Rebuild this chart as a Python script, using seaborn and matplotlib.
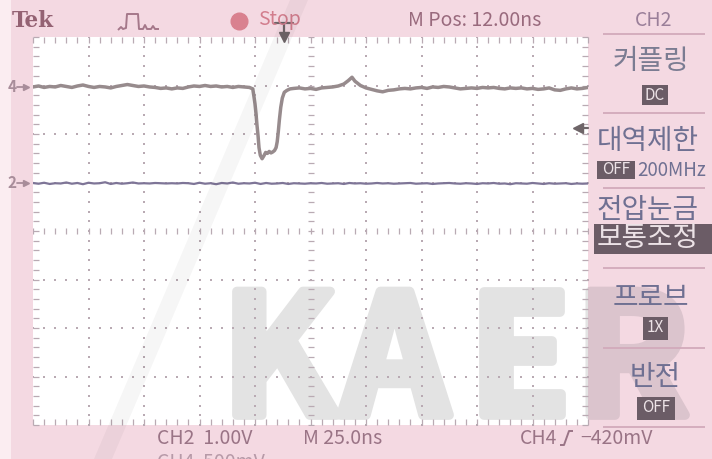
import numpy as np
import pandas as pd
import matplotlib
matplotlib.use("Agg")
import matplotlib.pyplot as plt
import matplotlib.patheffects as pe
import seaborn as sns
from matplotlib.lines import Line2D
from matplotlib.patches import Rectangle, Polygon

# ---- acquisition settings -------------------------------------------------
NS_PER_DIV = 25.0
M_POS_NS = 12.0
CH2_MV_PER_DIV = 1000.0
CH4_MV_PER_DIV = 500.0
CH2_POS_DIV = 1.0
CH4_POS_DIV = 2.96
TRIG_MV = -420.0

# ---- CH4 record (time in ns from left edge, level in mV) -----------------
ch4_t = [0, 2.5, 5, 7.5, 10, 12.5, 15, 17.5, 20, 22.5, 25, 27.5, 30, 32.5, 35,
         37.5, 40, 42.5, 45, 47.5, 50, 52.5, 55, 57.5, 60, 62.5, 65, 67.5, 70,
         72.5, 75, 77.5, 80, 82.5, 85, 87.5, 90, 92.5, 95, 97.5,
         99.0, 99.6, 100.0, 100.5, 100.9, 101.4, 101.8, 102.4, 103.2, 104.0,
         104.8, 105.6, 106.4, 107.2, 108.0, 108.8, 109.5, 110.0, 110.5, 111.0,
         111.6, 112.3, 113.2, 114.4, 115.8,
         117.5, 120, 122.5, 125, 127.5, 130, 132.5, 135, 137.5, 140, 142, 143.7,
         145, 147.5, 150, 152.5, 155, 157.5, 160, 162.5, 165, 167.5, 170, 172.5,
         175, 177.5, 180, 182.5, 185, 187.5, 190, 192.5, 195, 197.5, 200, 202.5,
         205, 207.5, 210, 212.5, 215, 217.5, 220, 222.5, 225, 227.5, 230, 232.5,
         235, 237.5, 240, 242.5, 245, 247.5, 250]
ch4_mv = [5, 15, 0, 10, 5, 20, 10, 0, 15, 25, 10, 0, 10, 5, -5,
          10, 20, 30, 20, 10, 15, 5, 0, -10, -5, -15, -5, -10, 5,
          15, 10, 20, 10, 15, 5, 10, 0, 10, 5, 0,
          -15, -105, -170, -280, -390, -505, -620, -700, -735, -705,
          -670, -680, -660, -675, -665, -650, -620, -560, -455, -330,
          -205, -110, -50, -30, -15,
          -10, -5, -15, -10, -20, -5, 0, 5, 15, 35, 70, 105,
          65, 20, -5, -20, -35, -45, -30, -25, -15, -10, -15, -5,
          0, -10, 5, 0, 10, 5, -5, -15, -10, -5, -10, 0,
          -5, 0, -10, -15, -5, -10, -5, -15, -10, -20, -15, -5,
          -25, -30, -15, -5, -15, -10, 0]

# ---- CH2 record ------------------------------------------------------------
ch2_t = [0, 2.5, 5, 7.5, 10, 12.5, 15, 17.5, 20, 22.5, 25, 27.5, 30, 32.5, 35,
         37.5, 40, 42.5, 45, 47.5, 50, 52.5, 55, 57.5, 60, 62.5, 65, 67.5, 70,
         72.5, 75, 77.5, 80, 82.5, 85, 87.5, 90, 92.5, 95, 97.5, 100, 102.5,
         105, 107.5, 110, 112.5, 115, 117.5, 120, 122.5, 125, 127.5, 130, 132.5,
         135, 137.5, 140, 142.5, 145, 147.5, 150, 152.5, 155, 157.5, 160, 162.5,
         165, 167.5, 170, 172.5, 175, 177.5, 180, 182.5, 185, 187.5, 190, 192.5,
         195, 197.5, 200, 202.5, 205, 207.5, 210, 212.5, 215, 217.5, 220, 222.5,
         225, 227.5, 230, 232.5, 235, 237.5, 240, 242.5, 245, 247.5, 250]
ch2_mv = [-10, -25, -5, -30, -15, -20, 0, -25, -10, -35, -5, -20, -15, 5, -30,
          -10, -25, -15, 0, -20, -15, -20, -10, -15, -20, -15, -20, -10, -15,
          -30, -5, -25, -15, -35, -10, -20, 0, -25, -15, -20, -5, -30,
          -10, -25, -20, -10, -30, -15, -20, -25, -15, -20, -10, -25,
          -20, -15, -30, -10, -20, -15, -25, -20, -10, -20, -15, -25,
          -20, -15, -10, -25, -20, -15, -30, -20, -15, -10, -20, -25,
          -15, -20, -30, -15, -20, -10, -25, -20, -35, -15, -20, -25,
          -10, -20, -30, -15, -25, -20, -15, -30, -20, -25, -20]

ch4 = pd.DataFrame({"t_ns": ch4_t, "div": [CH4_POS_DIV + v / CH4_MV_PER_DIV for v in ch4_mv]})
ch2 = pd.DataFrame({"t_ns": ch2_t, "div": [CH2_POS_DIV + v / CH2_MV_PER_DIV for v in ch2_mv]})

# ---- figure ------------------------------------------------------------------
W, H = 712, 459
sns.set_theme(style="white")
plt.rcParams["font.family"] = ["Liberation Sans Narrow", "Noto Sans CJK KR", "DejaVu Sans"]

PINK = "#f4d9e2"
MAUVE = "#9c6f80"
PANEL = "#6f7092"
BOX = "#6b5c66"
GRID = "#b9aab3"

fig = plt.figure(figsize=(W / 100, H / 100), dpi=100, facecolor=PINK)


def fx(x):
    return x / W


def fy(y):
    return 1 - y / H


def label(x, y, s, size=14, color=MAUVE, ha="center", va="center", **kw):
    return fig.text(fx(x), fy(y), s, fontsize=size, color=color, ha=ha, va=va, **kw)


def box(x0, y0, x1, y1, color=BOX):
    fig.add_artist(Rectangle((fx(x0), fy(y1)), (x1 - x0) / W, (y1 - y0) / H,
                             transform=fig.transFigure, facecolor=color,
                             edgecolor="none", zorder=2))


def pline(pts, color, lw=1.4, zorder=3):
    fig.add_artist(Line2D([fx(p[0]) for p in pts], [fy(p[1]) for p in pts],
                          transform=fig.transFigure, color=color, lw=lw,
                          zorder=zorder, solid_capstyle="butt"))


# lighter strip on the far left edge
fig.add_artist(Rectangle((0, 0), 11 / W, 1, transform=fig.transFigure,
                         facecolor="#fbedf1", edgecolor="none", zorder=-3))

# graticule
ax = fig.add_axes([fx(33), fy(425), 555 / W, 388 / H])
ax.set_facecolor("white")
ax.set_xlim(0, 10 * NS_PER_DIV)
ax.set_ylim(-4, 4)
for s in ax.spines.values():
    s.set_visible(False)
ax.set_xticks(np.arange(0, 10 * NS_PER_DIV + 0.1, NS_PER_DIV / 5))
ax.set_yticks(np.arange(-4, 4.01, 0.2))
ax.tick_params(direction="in", length=4, width=0.9, color=GRID,
               top=True, right=True, bottom=True, left=True,
               labelbottom=False, labelleft=False)

minor_y = np.arange(-4, 4.01, 0.2)
minor_x = np.arange(0, 250.1, 5)
for k in range(1, 10):
    if k == 5:
        continue
    xv = k * NS_PER_DIV
    ax.scatter(np.full_like(minor_y, xv), minor_y, s=1.6, marker="s",
               color=GRID, linewidths=0, zorder=1)
for yv in [-3, -2, -1, 1, 2, 3]:
    ax.scatter(minor_x, np.full_like(minor_x, yv), s=1.6, marker="s",
               color=GRID, linewidths=0, zorder=1)
# centre crosshair with minor division ticks
ax.plot(minor_x, np.zeros_like(minor_x), ls="none", marker="|", ms=4.5,
        mew=0.9, color=GRID, zorder=1)
ax.plot(np.full_like(minor_y, 125.0), minor_y, ls="none", marker="_", ms=4.5,
        mew=0.9, color=GRID, zorder=1)

# waveforms
sns.lineplot(data=ch4, x="t_ns", y="div", ax=ax, color="#978b8d", lw=2.5,
             estimator=None, sort=False, legend=False, zorder=4)
sns.lineplot(data=ch2, x="t_ns", y="div", ax=ax, color="#7e7597", lw=1.6,
             estimator=None, sort=False, legend=False, zorder=4)
ax.set_xlabel("")
ax.set_ylabel("")

# channel ground markers
ytr = ax.get_yaxis_transform()
for name, pos in (("4", CH4_POS_DIV), ("2", CH2_POS_DIV)):
    ax.text(-0.038, pos, name, transform=ytr, fontsize=11, color="#a88d9a",
            ha="center", va="center", clip_on=False, weight="bold")
    ax.plot([-0.029, -0.012], [pos, pos], transform=ytr, color="#a88d9a",
            lw=1.3, clip_on=False)
    ax.plot([-0.012], [pos], transform=ytr, marker=">", ms=4.5,
            color="#a88d9a", clip_on=False)

# trigger level marker (right edge)
trig_div = CH4_POS_DIV + TRIG_MV / CH4_MV_PER_DIV
ax.plot([0.982], [trig_div], transform=ytr, marker="<", ms=6.5,
        color="#6e6568", clip_on=False, zorder=5)
ax.plot([0.985, 1.0], [trig_div, trig_div], transform=ytr, lw=1.6,
        color="#6e6568", clip_on=False, zorder=5)

# trigger position marker (top edge)
xtr = ax.get_xaxis_transform()
t_trig = 5 * NS_PER_DIV - M_POS_NS
ax.plot([t_trig, t_trig], [1.01, 1.035], transform=xtr, lw=1.6,
        color="#6e6568", clip_on=False)
ax.plot([t_trig], [1.0], transform=xtr, marker="v", ms=7, color="#6e6568",
        clip_on=False)
ax.plot([t_trig - 4, t_trig + 4], [1.035, 1.035], transform=xtr, lw=1.6,
        color="#6e6568", clip_on=False)

# ---- header ------------------------------------------------------------------
label(33, 21, "Tek", size=15.5, color="#946273", weight="bold",
      family=["DejaVu Serif"])
pline([(118, 30), (121, 27), (123, 29), (126, 28), (127, 14), (138, 14),
       (139, 29), (143, 29), (145, 25), (147, 29), (151, 29), (153, 26),
       (155, 29), (159, 29)], "#a5788a", lw=1.4)
fig.add_artist(Line2D([fx(239)], [fy(21)], transform=fig.transFigure,
                      marker="o", ms=12, color="#d9818f", ls="none"))
label(279, 20, "Stop", size=14, color="#d27d8d")
label(475, 20, "M Pos: 12.00ns", size=14, color="#996a7d")
label(654, 20, "CH2", size=14, color="#9a7f99")

# ---- side menu -----------------------------------------------------------------
for yy in (34, 113, 188, 268, 348, 427):
    pline([(603, yy), (705, yy)], "#d2aabb", lw=1.3, zorder=2)

KR = ["Noto Sans CJK KR"]
label(651, 61, "커플링", size=20, color="#7b7c92", family=KR)
box(642, 85, 668, 105)
label(655, 95, "DC", size=11, color="#ece2e6")

label(597, 141, "대역제한", size=20, color=PANEL, family=KR, ha="left")
box(597, 161, 635, 179)
label(616, 170, "OFF", size=11, color="#ece2e6")
label(637, 170, "200MHz", size=13.5, color=PANEL, ha="left")

label(597, 210, "전압눈금", size=20, color=PANEL, family=KR, ha="left")
box(594, 224, 712, 254)
label(597, 238, "보통조정", size=20, color="#ece2e6", family=KR, ha="left")

label(651, 298, "프로브", size=20, color=PANEL, family=KR)
box(643, 317, 668, 340)
label(655, 328, "1X", size=11, color="#ece2e6")

label(655, 377, "반전", size=20, color=PANEL, family=KR)
box(637, 397, 675, 420)
label(656, 408, "OFF", size=11, color="#ece2e6")

# ---- footer --------------------------------------------------------------------
label(157, 438, "CH2  1.00V", size=14, color="#9a7486", ha="left")
label(303, 438, "M 25.0ns", size=14, color="#9a7486", ha="left")
label(520, 438, "CH4", size=14, color="#9a7486", ha="left")
pline([(560, 445), (564, 445), (569, 431), (573, 431)], "#9a7486", lw=1.4)
label(580, 438, "\u2212420mV", size=14, color="#9a7486", ha="left")
label(157, 462, "CH4  500mV", size=14, color="#b79aa8", ha="left")

# ---- watermark -----------------------------------------------------------------
fig.add_artist(Polygon([(fx(290), fy(0)), (fx(308), fy(0)), (fx(112), fy(459)),
                        (fx(94), fy(459))], closed=True,
                       transform=fig.transFigure, facecolor="black",
                       edgecolor="none", alpha=0.035, zorder=6))

WM_FONT = dict(fontsize=120, weight="black", family=["Noto Sans CJK KR"],
               ha="center", va="baseline")
for ch, cx in zip("KAERI", (279, 395, 520, 632, 730)):
    # on the graticule: light grey under the grid dots
    ax.text(fx(cx), fy(415), ch, transform=fig.transFigure, color="#e3e3e3",
            zorder=0.5, clip_on=True,
            path_effects=[pe.withStroke(linewidth=7, foreground="#e3e3e3")],
            **WM_FONT)
    # outside the graticule: greyish pink, hidden under the white plot area
    fig.text(fx(cx), fy(415), ch, color="#dbc4cd", zorder=-1,
             path_effects=[pe.withStroke(linewidth=7, foreground="#dbc4cd")],
             **WM_FONT)

fig.savefig("out.png", dpi=100, facecolor=PINK)
